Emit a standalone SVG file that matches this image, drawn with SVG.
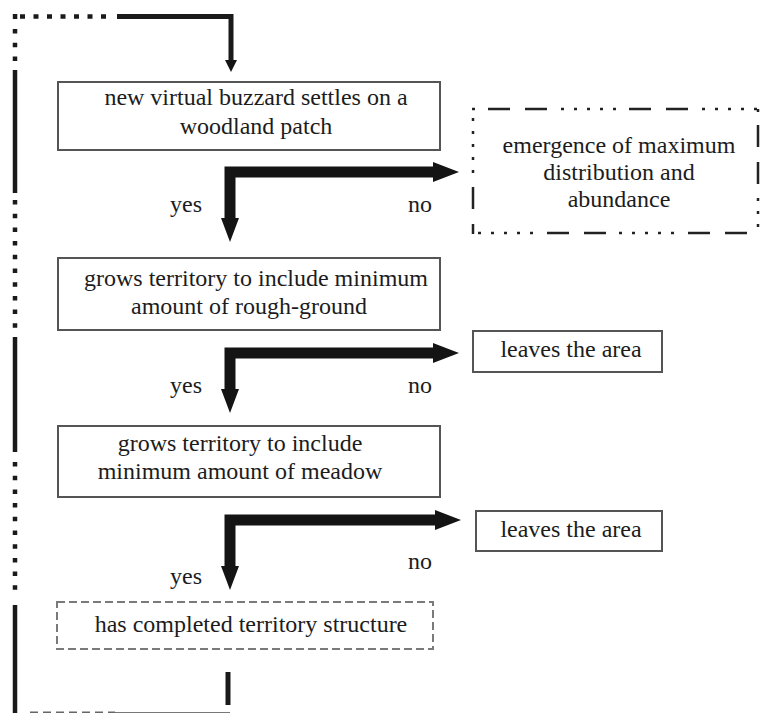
<svg xmlns="http://www.w3.org/2000/svg" width="760" height="713" viewBox="0 0 760 713">
<style>
  text { font-family: "Liberation Serif", Tinos, "Times New Roman", "DejaVu Serif", serif; font-size: 24px; fill: #1c1c1c; text-anchor: middle; }
  .box { fill: #ffffff; stroke: #555555; stroke-width: 2; }
  .dbox { fill: #ffffff; stroke: #7a7a7a; stroke-width: 2; stroke-dasharray: 8 4; }
  .ddline { fill: none; stroke: #222222; stroke-width: 2.5; stroke-dasharray: 22 15 22 14 3 10 3 10 3 10 3 10 3 13; }
  .loop { fill: none; stroke: #1a1a1a; stroke-width: 4.5; }
  .dots { fill: none; stroke: #1a1a1a; stroke-width: 4.5; stroke-dasharray: 4.5 9.2; }
  .arrow { fill: #141414; stroke: none; }
</style>

<g id="connectors" font-family="Liberation Serif, Tinos, Times New Roman, DejaVu Serif, serif">
  <!-- feedback loop (left and top) -->
  <rect x="12.8" y="14" width="4.5" height="5" fill="#1a1a1a"/>
  <line class="dots" x1="20" y1="16.5" x2="108" y2="16.5" style="stroke-dasharray:5 8.5"/>
  <line class="dots" x1="15" y1="29" x2="15" y2="62"/>
  <path class="loop" d="M117,16.5 H231 V62" style="stroke-width:5"/>
  <polygon class="arrow" points="225,60 237,60 231,72"/>
  <line class="loop" x1="15" y1="70" x2="15" y2="193"/>
  <line class="dots" x1="15" y1="200" x2="15" y2="331"/>
  <line class="loop" x1="15" y1="337" x2="15" y2="452"/>
  <line class="dots" x1="15" y1="462" x2="15" y2="598"/>
  <line class="loop" x1="15" y1="605" x2="15" y2="713"/>
  <line class="dots" x1="30" y1="714" x2="115" y2="714" style="stroke-width:5;stroke-dasharray:8 5;stroke:#666"/>
  <line x1="115" y1="713" x2="230" y2="713" stroke="#777777" stroke-width="2"/>
  <line class="loop" x1="228" y1="672" x2="228" y2="705" style="stroke-width:5"/>

  <!-- elbow arrow 1 -->
  <polygon class="arrow" points="224.5,166.5 433,166.5 433,162 459,172 433,182 433,177.5 235.5,177.5 235.5,218 239,218 230,242 221,218 224.5,218"/>
  <!-- elbow arrow 2 -->
  <polygon class="arrow" points="224.5,347.5 433,347.5 433,343 459,353 433,363 433,358.5 235.5,358.5 235.5,389 239,389 230,413 221,389 224.5,389"/>
  <!-- elbow arrow 3 -->
  <polygon class="arrow" points="224.5,514.5 435,514.5 435,510 461,520 435,530 435,525.5 235.5,525.5 235.5,566 239,566 230,590 221,566 224.5,566"/>

  <text x="186" y="212">yes</text>
  <text x="420" y="212">no</text>
  <text x="186" y="393">yes</text>
  <text x="420" y="393">no</text>
  <text x="420" y="569">no</text>
  <text x="186" y="584">yes</text>
</g>

<g id="settles">
  <rect class="box" x="58" y="82" width="382" height="68"/>
  <text x="256" y="105">new virtual buzzard settles on a</text>
  <text x="256" y="134">woodland patch</text>
</g>

<g id="emergence">
  <rect x="473" y="109" width="285" height="124" fill="#ffffff"/>
  <line class="ddline" x1="472" y1="109" x2="758" y2="109" stroke-dashoffset="125"/>
  <line class="ddline" x1="758" y1="109" x2="758" y2="233" stroke-dashoffset="125"/>
  <line class="ddline" x1="758" y1="233" x2="473" y2="233" stroke-dashoffset="130"/>
  <line class="ddline" x1="473" y1="234" x2="473" y2="109" stroke-dashoffset="12"/>
  <text x="619" y="153">emergence of maximum</text>
  <text x="619" y="180">distribution and</text>
  <text x="619" y="207">abundance</text>
</g>

<g id="rough-ground">
  <rect class="box" x="58" y="258" width="382" height="72"/>
  <text x="256" y="286">grows territory to include minimum</text>
  <text x="249" y="314">amount of rough-ground</text>
</g>

<g id="leaves1">
  <rect class="box" x="473" y="331" width="189" height="41"/>
  <text x="571" y="357">leaves the area</text>
</g>

<g id="meadow">
  <rect class="box" x="58" y="426" width="382" height="71"/>
  <text x="240" y="451">grows territory to include</text>
  <text x="240" y="479">minimum amount of meadow</text>
</g>

<g id="leaves2">
  <rect class="box" x="476" y="511" width="186" height="40"/>
  <text x="571" y="537">leaves the area</text>
</g>

<g id="completed">
  <rect class="dbox" x="57" y="602" width="376" height="47"/>
  <text x="251" y="632">has completed territory structure</text>
</g>
</svg>
